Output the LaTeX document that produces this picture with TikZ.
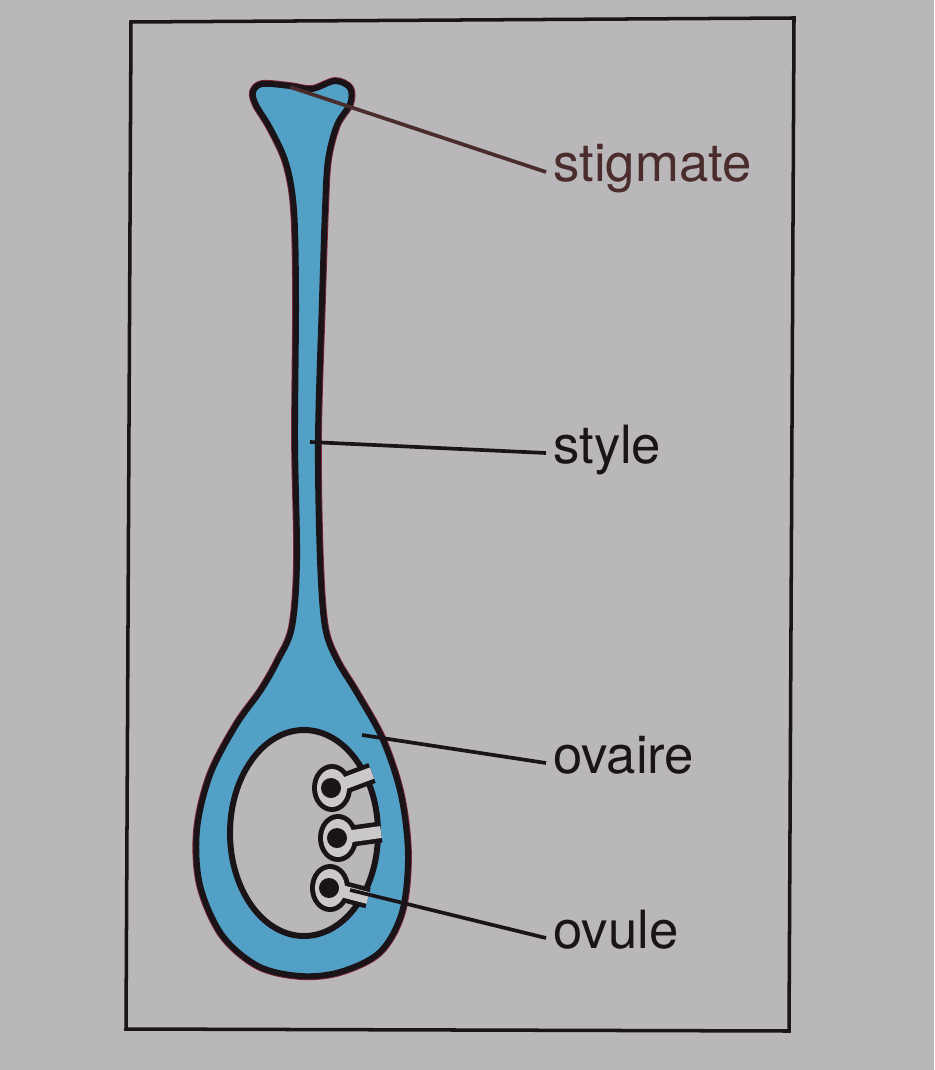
\documentclass[tikz,border=0pt]{standalone}
\usepackage{fontspec}
\setmainfont{TeX Gyre Heros}
\usetikzlibrary{positioning,calc}

\definecolor{paper}{RGB}{186,183,186}
\definecolor{ink}{RGB}{26,20,24}
\definecolor{inkbrown}{RGB}{74,44,44}
\definecolor{tissue}{RGB}{82,160,198}
\definecolor{seedgray}{RGB}{202,200,202}
\definecolor{fringe}{RGB}{125,40,58}

\begin{document}
\begin{tikzpicture}[
    x=0.02cm,y=-0.02cm,
    outline/.style={draw=ink,line width=3.4pt,line join=round},
    leader/.style={draw=ink,line width=2.1pt},
    lbl/.style={font=\fontsize{30}{36}\selectfont,text=ink,inner xsep=0.14cm,inner ysep=0pt,
                text height=0.4cm,text depth=0pt,anchor=base west}
]
% page and frame
\fill[paper] (0,0) rectangle (934,1070);
\draw[ink,line width=2pt] (131,22) -- (794,18) -- (789,1031) -- (126,1029) -- cycle;

% stigma, style and ovary wall in one outline
\path[fill=tissue,preaction={draw=fringe,line width=4.4pt},outline]
  plot[smooth cycle,tension=0.55] coordinates {
    (262,84) (290,86) (312,89) (335,81) (350,88) (350,104) (337,125) (328,160)
    (325,210) (322,300) (318,440) (320,560) (325,627) (337,660) (357,693)
    (383,740) (401,795) (408,855) (402,912) (380,952) (340,972) (300,976)
    (258,966) (222,935) (200,885) (197,830) (210,775) (236,725) (261,690)
    (278,660) (292,627) (297,560) (295,440) (296,300) (294,210) (286,163)
    (270,128) (256,105) (253,92)};

% ovary cavity
\draw[outline,fill=paper] (304,833) ellipse [x radius=74,y radius=103];

% ovules: dark rim first, then the grey body and the dark nucleus
\foreach \bx/\by/\sx/\sy in {332/788/372/773, 338/838/381/832, 330/888/368/898}{
  \draw[ink,line width=12pt] (\bx,\by) -- (\sx,\sy);
  \fill[ink] (\bx,\by) ellipse [x radius=20,y radius=24];
}
\foreach \bx/\by/\sx/\sy in {332/788/372/773, 338/838/381/832, 330/888/368/898}{
  \draw[seedgray,line width=6.8pt] (\bx,\by) -- (\sx,\sy);
  \fill[seedgray] (\bx,\by) ellipse [x radius=15,y radius=19];
  \fill[ink] (\bx-1,\by) circle [radius=10];
}

% labels
\node[lbl,text=inkbrown] (stigmate) at (546,182) {stigmate};
\node[lbl] (style) at (546,463) {style};
\node[lbl] (ovaire) at (546,773) {ovaire};
\node[lbl] (ovule) at (546,948) {ovule};

\coordinate (stigpt) at (290,87);
\coordinate (stylept) at (310,442);
\coordinate (ovairept) at (362,735);
\coordinate (ovulept) at (350,890);

\draw[leader,draw=inkbrown] (stigpt) -- (stigmate.west);
\draw[leader] (stylept) -- (style.west);
\draw[leader] (ovairept) -- (ovaire.west);
\draw[leader] (ovulept) -- (ovule.west);
\end{tikzpicture}
\end{document}
